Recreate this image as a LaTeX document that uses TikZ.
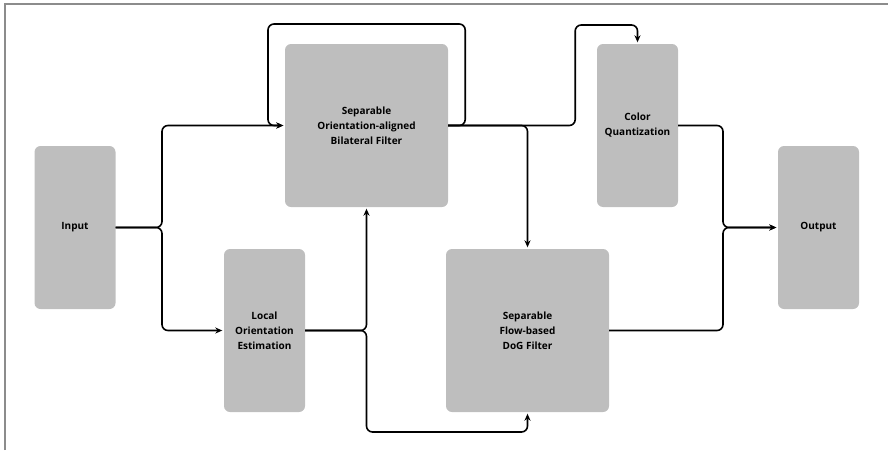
\documentclass[tikz,border=0pt]{standalone}
\usepackage{fontspec}
\setmainfont{Open Sans}
\usetikzlibrary{arrows.meta,positioning}
\definecolor{boxgray}{RGB}{190,190,190}
\definecolor{framegray}{RGB}{140,140,140}
\begin{document}
\begin{tikzpicture}[
    x=1pt, y=-1pt,
    stage/.style={fill=boxgray, rounded corners=6pt, inner sep=0pt, align=center, font=\bfseries\fontsize{10}{15}\selectfont},
    tall/.style={stage, minimum width=81pt, minimum height=163pt},
    wide/.style={stage, minimum width=163pt, minimum height=163pt},
    arrow/.style={-{Stealth[length=7pt,width=6pt]}, line width=1.6pt, rounded corners=6pt, shorten >=1.5pt}
]
\useasboundingbox (0,0) rectangle (888,450);
\draw[framegray, line width=1.5pt] (5,450) -- (5,4) -- (888,4);
\node[tall] (input) at (75,227.5) {Input};
\node[wide] (bilateral) at (366.5,125.5) {Separable\\Orientation-aligned\\Bilateral Filter};
\node[tall] (orient) at (264.5,330.5) {Local\\Orientation\\Estimation};
\node[tall] (quant) at (637.5,125.5) {Color\\Quantization};
\node[wide] (dog) at (527.5,330.5) {Separable\\Flow-based\\DoG Filter};
\node[tall] (output) at (818.5,227.5) {Output};
\coordinate (split) at (162,227.5);
\coordinate (join) at (723,227.5);
\draw[arrow] (input.east) -- (split) |- (bilateral.west);
\draw[arrow] (input.east) -- (split) |- (orient.west);
\draw[arrow] (bilateral.east) -- ++(17,0) |- (268,24) |- (bilateral.west);
\draw[arrow] (bilateral.east) -| (dog.north);
\draw[arrow] (bilateral.east) -- ++(127,0) |- (quant.north |- 0,25) -- (quant.north);
\draw[arrow] (orient.east) -| (bilateral.south);
\draw[arrow] (orient.east) -- (bilateral.south |- orient.east) |- (dog.south |- 0,432) -- (dog.south);
\draw[arrow] (quant.east) -| (join) -- (output.west);
\draw[arrow] (dog.east) -| (join) -- (output.west);
\end{tikzpicture}
\end{document}
